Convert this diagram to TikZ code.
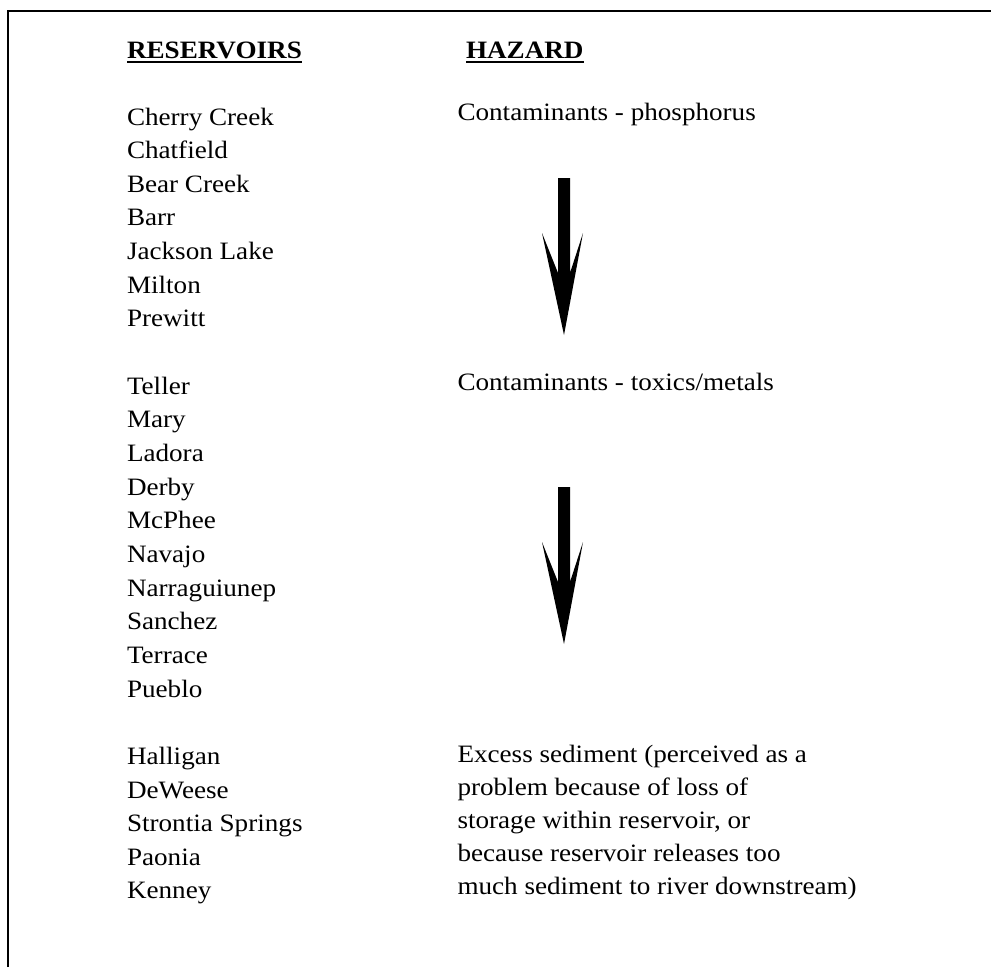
\documentclass[tikz,border=0pt]{standalone}
\usepackage{fontspec}
\setmainfont{Liberation Serif}[FakeStretch=1.085]
\begin{document}
\begin{tikzpicture}[x=0.75pt,y=-0.75pt,
  txt/.style={anchor=base west,inner sep=0pt,outer sep=0pt,font=\fontsize{18.75pt}{20pt}\selectfont},
  hdr/.style={txt,font=\fontsize{18.75pt}{20pt}\selectfont\bfseries},
  uline/.style={line width=1.1pt},
  frame/.style={line width=1.5pt},
  bigarrow/.style={fill=black}]
\useasboundingbox (0,0) rectangle (991,967);
\draw[frame] (8,967) -- (8,11) -- (991,11);
% headers
\node[hdr] (hres) at (127,58) {RESERVOIRS};
\node[hdr] (hhaz) at (466,58) {HAZARD};
\draw[uline] ([yshift=-3pt]hres.base west) -- ([yshift=-3pt]hres.base east);
\draw[uline] ([yshift=-3pt]hhaz.base west) -- ([yshift=-3pt]hhaz.base east);
% reservoirs
\foreach \t [count=\i] in {Cherry Creek,Chatfield,Bear Creek,Barr,Jackson Lake,Milton,Prewitt}
  \node[txt] (ra\i) at (127,{125+33.65*(\i-1)}) {\t};
\foreach \t [count=\i] in {Teller,Mary,Ladora,Derby,McPhee,Navajo,Narraguiunep,Sanchez,Terrace,Pueblo}
  \node[txt] (rb\i) at (127,{125+33.65*(\i+7)}) {\t};
\foreach \t [count=\i] in {Halligan,DeWeese,Strontia Springs,Paonia,Kenney}
  \node[txt] (rc\i) at (127,{125+33.65*(\i+18)}) {\t};
% hazards
\node[txt] (hz1) at (457.5,120.5) {Contaminants - phosphorus};
\node[txt] (hz2) at (457.5,390) {Contaminants - toxics/metals};
\foreach \t [count=\i] in {Excess sediment (perceived as a,problem because of loss of,{storage within reservoir, or},because reservoir releases too,much sediment to river downstream)}
  \node[txt] (hx\i) at (457.5,{762+33*(\i-1)}) {\t};
% arrows
\fill[bigarrow] (558,178) -- (570,178) -- (570,273) -- (583,233) -- (564,335) -- (542,233) -- (558,273) -- cycle;
\fill[bigarrow] (558,487) -- (570,487) -- (570,582) -- (583,542) -- (564,644) -- (542,542) -- (558,582) -- cycle;
\end{tikzpicture}
\end{document}
